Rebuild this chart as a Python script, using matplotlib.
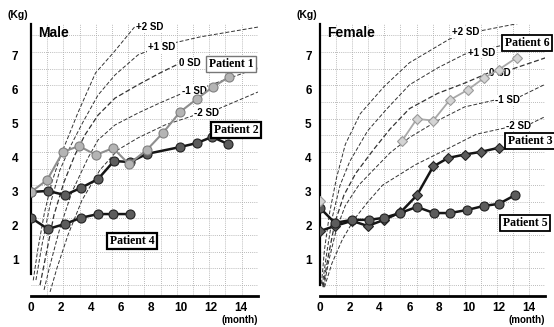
import matplotlib.pyplot as plt
import numpy as np

# ---- reference curves, boys (month, kg) ----
m_p2_t = [0.15, 0.45, 0.9, 1.4, 2.0, 2.6, 3.1, 3.7, 4.3, 5.5, 6.9]
m_p2_w = [0.4, 1.3, 2.4, 3.3, 4.1, 4.75, 5.3, 5.9, 6.5, 7.1, 7.85]
m_p1_t = [0.33, 0.73, 1.27, 1.93, 2.67, 3.47, 4.47, 5.6, 7.13, 8.6, 11.27, 15.13]
m_p1_w = [0.41, 1.44, 2.62, 3.65, 4.38, 5.06, 5.85, 6.44, 7.03, 7.29, 7.56, 7.85]
m_0_t = [0.6, 1.0, 1.53, 2.2, 2.93, 3.6, 4.47, 5.6, 7.13, 8.6, 9.8]
m_0_w = [0.26, 1.15, 2.32, 3.29, 4.09, 4.68, 5.26, 5.76, 6.15, 6.5, 6.76]
m_m1_t = [0.87, 1.27, 1.93, 2.73, 3.8, 4.47, 5.6, 7.13, 8.6, 10.13, 11.6, 15.13]
m_m1_w = [0.12, 0.85, 1.94, 3.0, 4.0, 4.53, 4.97, 5.32, 5.62, 5.91, 6.09, 6.65]
m_m2_t = [1.27, 1.73, 2.47, 3.4, 4.6, 5.8, 7.13, 8.93, 10.93, 12.47, 15.13]
m_m2_w = [0.06, 0.76, 1.74, 2.76, 3.65, 4.24, 4.59, 4.97, 5.26, 5.44, 5.94]

# ---- reference curves, girls ----
f_p2_t = [0.1, 0.3, 0.65, 1.1, 1.7, 2.7, 4.3, 6.0, 8.7, 10.9, 15.0]
f_p2_w = [0.3, 1.3, 2.4, 3.4, 4.4, 5.3, 6.1, 6.8, 7.5, 7.75, 8.1]
f_p1_t = [0.15, 0.45, 0.85, 1.35, 2.0, 3.2, 4.5, 6.0, 7.9, 9.7, 12.1, 15.5]
f_p1_w = [0.25, 1.2, 2.3, 3.2, 3.9, 4.8, 5.45, 6.15, 6.65, 7.05, 7.3, 7.65]
f_0_t = [0.2, 0.55, 1.0, 1.6, 2.4, 3.6, 4.7, 6.0, 7.9, 9.7, 11.3, 12.8, 15.5]
f_0_w = [0.2, 1.1, 2.1, 2.9, 3.55, 4.25, 4.85, 5.45, 5.9, 6.2, 6.5, 6.6, 7.0]
f_m1_t = [0.25, 0.6, 1.1, 1.7, 2.6, 3.7, 4.7, 6.0, 7.9, 9.7, 11.7, 13.4, 15.5]
f_m1_w = [0.2, 1.0, 1.9, 2.6, 3.2, 3.7, 4.15, 4.6, 5.1, 5.5, 5.7, 5.8, 6.25]
f_m2_t = [0.3, 0.8, 1.5, 2.3, 3.2, 4.2, 6.4, 8.7, 10.5, 12.6, 14.1, 15.5]
f_m2_w = [0.2, 0.9, 1.6, 2.2, 2.7, 3.2, 3.8, 4.3, 4.7, 4.9, 5.0, 5.3]

# ---- patients ----
p1_t = [0, 1.07, 2.13, 3.2, 4.33, 5.47, 6.53, 7.73, 8.8, 9.93, 11.07, 12.13, 13.2]
p1_w = [3.0, 3.35, 4.18, 4.35, 4.09, 4.29, 3.82, 4.24, 4.74, 5.35, 5.74, 6.09, 6.38]
p2_t = [0, 1.13, 2.27, 3.33, 4.47, 5.53, 6.6, 7.73, 9.93, 11.07, 12.07, 13.13]
p2_w = [3.0, 3.03, 2.91, 3.12, 3.38, 3.91, 3.88, 4.12, 4.32, 4.44, 4.62, 4.41]
p4_t = [0, 1.13, 2.27, 3.33, 4.47, 5.47, 6.6]
p4_w = [2.24, 1.91, 2.06, 2.24, 2.35, 2.35, 2.35]

p3_t = [0, 1.0, 2.15, 3.2, 4.3, 5.4, 6.5, 7.6, 8.6, 9.7, 10.8, 12.0]
p3_w = [1.85, 2.0, 2.15, 2.0, 2.18, 2.4, 2.9, 3.75, 4.0, 4.1, 4.18, 4.3]
p5_t = [0, 1.0, 2.15, 3.3, 4.3, 5.37, 6.5, 7.65, 8.72, 9.87, 11.0, 12.0, 13.1]
p5_w = [2.53, 2.09, 2.18, 2.18, 2.24, 2.38, 2.56, 2.38, 2.38, 2.47, 2.59, 2.65, 2.91]
p6_t = [0, np.nan, 5.5, 6.5, 7.6, 8.7, 9.9, 11.0, 12.0, 13.2]
p6_w = [2.74, np.nan, 4.5, 5.15, 5.1, 5.7, 6.0, 6.35, 6.6, 6.95]

x_ticks = [0, 2, 4, 6, 8, 10, 12, 14]
y_ticks = [1, 2, 3, 4, 5, 6, 7]
sd_names = ["+2 SD", "+1 SD", "0 SD", "-1 SD", "-2 SD"]

sans = "Liberation Sans"
serif = "Liberation Serif"

fig = plt.figure(figsize=(5.54, 3.27), dpi=100)
fig.patch.set_facecolor("white")
ax1 = fig.add_axes([31/554, 31/327, 227/554, 272/327])
ax2 = fig.add_axes([320/554, 31/327, 225/554, 272/327])


def setup(ax, xmax, ypad, left_bound):
    ax.set_xlim(0, xmax)
    ax.set_ylim(-0.06, 7.94)
    ax.set_xticks(x_ticks)
    ax.set_yticks(y_ticks)
    ax.set_xticklabels([str(v) for v in x_ticks], fontsize=8.5, fontweight="bold", family=sans)
    ax.set_yticklabels([str(v) for v in y_ticks], fontsize=8.5, fontweight="bold", family=sans)
    ax.tick_params(length=0)
    ax.tick_params(axis="x", pad=4)
    ax.tick_params(axis="y", pad=ypad)
    # loose dotted grid
    ax.set_xticks(np.arange(0, xmax, 1.08), minor=True)
    ax.set_yticks(np.arange(0.26, 7.94, 0.49), minor=True)
    ax.tick_params(which="minor", length=0)
    ax.grid(which="minor", color="#a5a5a5", linestyle=(0, (1, 1.5)), linewidth=0.6)
    for s in ["top", "right"]:
        ax.spines[s].set_visible(False)
    ax.spines["left"].set_linewidth(1.6)
    ax.spines["left"].set_bounds(left_bound, 7.94)
    ax.spines["bottom"].set_linewidth(2)
    ax.text(-0.2, 8.05, "(Kg)", fontsize=7.5, fontweight="bold", family=sans,
            ha="right", va="bottom", clip_on=False)
    ax.text(xmax, -0.76, "(month)", fontsize=7, fontweight="bold", family=sans,
            ha="right", va="center", clip_on=False)


setup(ax1, 227/15, 9, 0.6)
setup(ax2, 225/14.9, 6, 0.25)


def sd_curves(ax, curves, labels):
    for (t, w), lw in zip(curves, [0.7, 0.7, 0.9, 0.7, 0.7]):
        ax.plot(t, w, color="#333333", linestyle=(0, (4, 2)), linewidth=lw, zorder=2)
    for name, (x, y) in zip(sd_names, labels):
        ax.text(x, y, name, fontsize=7, fontweight="bold", family=sans, ha="center", va="center",
                zorder=3, bbox=dict(boxstyle="square,pad=0.05", fc="white", ec="none"))


sd_curves(ax1, [(m_p2_t, m_p2_w), (m_p1_t, m_p1_w), (m_0_t, m_0_w), (m_m1_t, m_m1_w), (m_m2_t, m_m2_w)],
          [(7.9, 7.85), (8.7, 7.26), (10.6, 6.79), (10.87, 5.97), (11.67, 5.32)])
sd_curves(ax2, [(f_p2_t, f_p2_w), (f_p1_t, f_p1_w), (f_0_t, f_0_w), (f_m1_t, f_m1_w), (f_m2_t, f_m2_w)],
          [(9.8, 7.7), (10.87, 7.09), (12.08, 6.5), (12.55, 5.7), (13.3, 4.94)])

dark = dict(color="#151515", linewidth=1.8, markerfacecolor="#5c5c5c", markeredgecolor="#222222",
            markeredgewidth=0.8, zorder=5)
light = dict(color="#8e8e8e", linewidth=1.5, markerfacecolor="#b4b4b4", markeredgecolor="#808080",
             markeredgewidth=0.8, zorder=6)

ax1.plot(p2_t, p2_w, marker="o", markersize=6.5, **dark)
ax1.plot(p4_t, p4_w, marker="o", markersize=6.5, **dark)
ax1.plot(p1_t, p1_w, marker="o", markersize=6.5, **light)

ax2.plot(p3_t, p3_w, marker="D", markersize=5, **dark)
ax2.plot(p5_t, p5_w, marker="o", markersize=6.5, **dark)
ax2.plot(p6_t, p6_w, marker="D", markersize=5, color="#a8a8a8", linewidth=1.3,
         markerfacecolor="#d4d4d4", markeredgecolor="#9a9a9a", markeredgewidth=0.8, zorder=6)

ax1.text(0.47, 7.68, "Male", fontsize=10, fontweight="bold", family=sans, ha="left", va="center")
ax2.text(0.47, 7.68, "Female", fontsize=10, fontweight="bold", family=sans, ha="left", va="center")


def patient_box(ax, x, y, name, ec="black", lw=1.3):
    ax.text(x, y, name, fontsize=8.5, fontweight="bold", family=serif, ha="center", va="center",
            zorder=8, clip_on=False,
            bbox=dict(boxstyle="square,pad=0.2", fc="white", ec=ec, lw=lw))


patient_box(ax1, 13.33, 6.76, "Patient 1", ec="#777777", lw=1.0)
patient_box(ax1, 13.67, 4.82, "Patient 2", lw=1.6)
patient_box(ax1, 6.73, 1.56, "Patient 4", lw=1.6)
patient_box(ax2, 13.9, 7.38, "Patient 6")
patient_box(ax2, 14.1, 4.5, "Patient 3")
patient_box(ax2, 13.76, 2.09, "Patient 5")

fig.savefig("out.png", dpi=100)
